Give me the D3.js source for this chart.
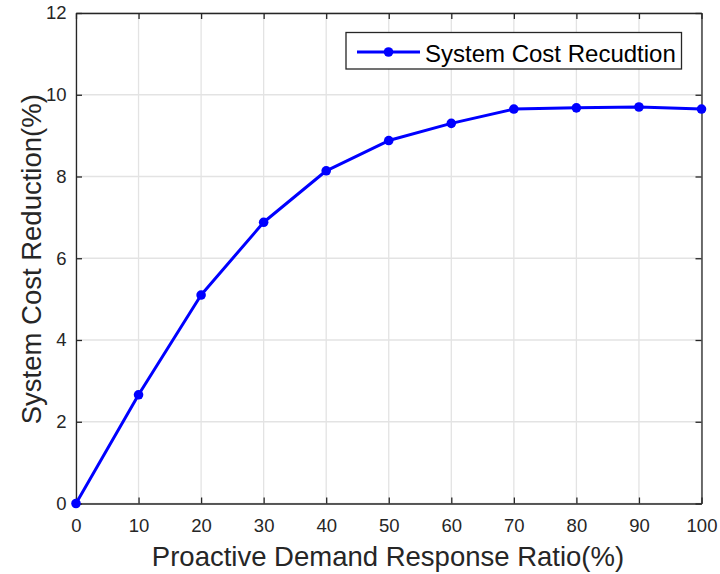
<!DOCTYPE html>
<html>
<head>
<meta charset="utf-8">
<script src="https://cdn.jsdelivr.net/npm/d3@7"></script>
<style>
  html, body { margin: 0; padding: 0; background: #fff; }
  svg { display: block; font-family: "Liberation Sans", Arial, Helvetica, sans-serif; }
</style>
</head>
<body>
<svg id="chart" width="720" height="574"></svg>
<script>
// Proactive demand response ratio (%) vs. system cost reduction (%)
const ratios = [0, 10, 20, 30, 40, 50, 60, 70, 80, 90, 100];
const costReduction = [0, 2.66, 5.10, 6.88, 8.14, 8.88, 9.30, 9.65, 9.68, 9.70, 9.65];
const xTicks = [0, 10, 20, 30, 40, 50, 60, 70, 80, 90, 100];
const yTicks = [0, 2, 4, 6, 8, 10, 12];
const seriesName = "System Cost Recudtion";
const xTitle = "Proactive Demand Response Ratio(%)";
const yTitle = "System Cost Reduction(%)";

const svg = d3.select("#chart");
const plotL = 76, plotR = 701.5, plotT = 13, plotB = 503.5;
const axisColor = "#262626";
const gridColor = "#e3e3e3";

const x = d3.scaleLinear().domain([0, 100]).range([plotL, plotR]);
const y = d3.scaleLinear().domain([0, 12]).range([plotB, plotT]);

// grid
const grid = svg.append("g");
grid.selectAll("line.gx").data(xTicks).join("line")
  .attr("x1", d => x(d)).attr("x2", d => x(d))
  .attr("y1", plotT).attr("y2", plotB)
  .attr("stroke", gridColor).attr("stroke-width", 1.3);
grid.selectAll("line.gy").data(yTicks).join("line")
  .attr("y1", d => y(d)).attr("y2", d => y(d))
  .attr("x1", plotL).attr("x2", plotR)
  .attr("stroke", gridColor).attr("stroke-width", 1.3);

// axes (ticks point inward, box on all sides)
const tickLen = 6;
function styleAxis(g) {
  g.select(".domain").attr("stroke", axisColor).attr("stroke-width", 1.3);
  g.selectAll(".tick line").attr("stroke", axisColor).attr("stroke-width", 1.3);
  g.selectAll(".tick text").attr("fill", axisColor).attr("font-size", 18.5)
    .attr("font-family", "'Liberation Sans', Arial, Helvetica, sans-serif");
}
const xAxis = svg.append("g").attr("transform", `translate(0,${plotB})`)
  .call(d3.axisBottom(x).tickValues(xTicks).tickSize(-tickLen).tickSizeOuter(0).tickPadding(15).tickFormat(d3.format("d")));
styleAxis(xAxis);
const xAxisTop = svg.append("g").attr("transform", `translate(0,${plotT})`)
  .call(d3.axisTop(x).tickValues(xTicks).tickSize(-tickLen).tickSizeOuter(0).tickFormat(""));
styleAxis(xAxisTop);
const yAxis = svg.append("g").attr("transform", `translate(${plotL},0)`)
  .call(d3.axisLeft(y).tickValues(yTicks).tickSize(-tickLen).tickSizeOuter(0).tickPadding(9.5).tickFormat(d3.format("d")));
styleAxis(yAxis);
const yAxisRight = svg.append("g").attr("transform", `translate(${plotR},0)`)
  .call(d3.axisRight(y).tickValues(yTicks).tickSize(-tickLen).tickSizeOuter(0).tickFormat(""));
styleAxis(yAxisRight);

// axis titles
svg.append("text")
  .attr("x", 388).attr("y", 566)
  .attr("text-anchor", "middle").attr("font-size", 27.5).attr("fill", axisColor)
  .text(xTitle);
svg.append("text")
  .attr("transform", `translate(41,${(plotT + plotB) / 2 + 1}) rotate(-90)`)
  .attr("text-anchor", "middle").attr("font-size", 27.5).attr("fill", axisColor)
  .text(yTitle);

// series
const pts = ratios.map((r, i) => [r, costReduction[i]]);
svg.append("path")
  .datum(pts)
  .attr("fill", "none").attr("stroke", "#0000ff").attr("stroke-width", 3)
  .attr("stroke-linejoin", "round")
  .attr("d", d3.line().x(d => x(d[0])).y(d => y(d[1])));
svg.selectAll("circle.pt").data(pts).join("circle")
  .attr("class", "pt")
  .attr("cx", d => x(d[0])).attr("cy", d => y(d[1])).attr("r", 4.8)
  .attr("fill", "#0000ff");

// legend
const lg = svg.append("g");
lg.append("rect").attr("x", 346).attr("y", 32.5).attr("width", 335.5).attr("height", 36.5)
  .attr("fill", "#fff").attr("stroke", axisColor).attr("stroke-width", 1.3);
lg.append("line").attr("x1", 357).attr("x2", 420).attr("y1", 52).attr("y2", 52)
  .attr("stroke", "#0000ff").attr("stroke-width", 3);
lg.append("circle").attr("cx", 388.5).attr("cy", 52).attr("r", 4.8).attr("fill", "#0000ff");
lg.append("text").attr("x", 425).attr("y", 61.5).attr("font-size", 24).attr("fill", "#000")
  .text(seriesName);
</script>
</body>
</html>
